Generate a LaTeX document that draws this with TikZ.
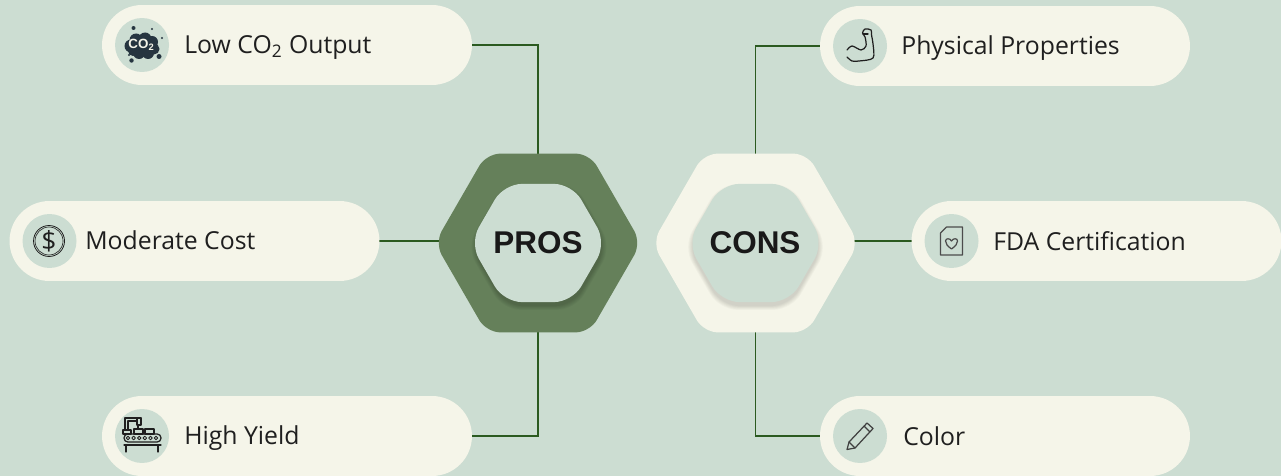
\documentclass[tikz,border=0pt]{standalone}
\usepackage{fontspec}
\setmainfont{Open Sans}
\newfontfamily\headfont{Liberation Sans}
\usetikzlibrary{shapes.geometric,shapes.misc,backgrounds}

\definecolor{bgmint}{HTML}{CCDDD2}
\definecolor{cream}{HTML}{F5F5E9}
\definecolor{prosgreen}{HTML}{65805A}
\definecolor{linkgreen}{HTML}{2B5A20}
\definecolor{inkdark}{HTML}{1F1F1F}
\definecolor{clouddark}{HTML}{263540}

\tikzset{
    pill/.style={rounded rectangle,fill=cream,minimum width=7.4cm,minimum height=1.6cm,inner sep=0pt,outer sep=0pt},
    iconcirc/.style={circle,fill=bgmint,minimum size=1.08cm,inner sep=0pt,outer sep=0pt},
    pilltext/.style={anchor=base west,inner sep=0pt,text=inkdark,font=\fontsize{14.1}{16}\selectfont},
    hexa/.style={regular polygon,regular polygon sides=6,inner sep=0pt,outer sep=0pt},
    hexouter/.style={hexa,minimum size=4.13cm,rounded corners=0.28cm},
    hexinner/.style={hexa,fill=bgmint,minimum size=2.73cm,rounded corners=0.36cm},
    hextext/.style={inner sep=0pt,text=black!90,font=\headfont\fontsize{17.9}{20}\selectfont\bfseries},
    link/.style={linkgreen,line width=0.95pt},
    icon/.style={line width=0.7pt,line cap=round,line join=round,inkdark},
}

\begin{document}
\begin{tikzpicture}[x=0.02cm,y=-0.02cm]
    \useasboundingbox (0,0) rectangle (1281,476);

    % Pills, their icon discs and their labels
    \foreach \name/\x/\y/\tx/\ty/\lab in {
    lowco/287/45/184/53.5/{Low CO\textsubscript{2} Output},
    physical/1005/46/901/54.5/{Physical Properties},
    moderate/194.5/241/85/249.5/{Moderate Cost},
    fda/1096.5/241/993/250.5/{FDA Certification},
    yield/287/436/184/444/{High Yield},
    color/1005/436/903/445/{Color}} {
    \node [pill] (\name) at (\x,\y) {};
    \node [iconcirc] (\name-icon) at ([xshift=0.8cm]\name.west) {};
    \node [pilltext] (\name-text) at (\tx,\ty) {\lab};
    }

    % Hexagons with a soft shadow under the inner one
    \node [hexouter,fill=prosgreen] (pros-outer) at (538,243) {};
    \node [hexouter,fill=cream] (cons-outer) at (755.5,243) {};
    \foreach \k in {1,...,6} {
    \node [hexa,fill=black,opacity=0.03,minimum size={2.73cm+(\k-1)*0.035cm},rounded corners=0.36cm] (pros-shadow-\k) at (539,247) {};
    \node [hexa,fill=black,opacity=0.025,minimum size={2.73cm+(\k-1)*0.035cm},rounded corners=0.36cm] (cons-shadow-\k) at (755.5,247) {};
    }
    \node [hexinner] (pros) at (538,243) {};
    \node [hexinner] (cons) at (755.5,243) {};
    \node [hextext] (pros-text) at (538,243) {PROS};
    \node [hextext] (cons-text) at (755,243) {CONS};

    % Connectors sit behind everything
    \begin{scope}[on background layer]
    \fill [bgmint] (0,0) rectangle (1281,476);
    \draw [link] (lowco.east) -| (pros-outer.center);
    \draw [link] (yield.east) -| (pros-outer.center);
    \draw [link] (moderate.east) -- (moderate.east -| pros-outer.center);
    \draw [link] (physical.west) -| (cons-outer.center);
    \draw [link] (color.west) -| (cons-outer.center);
    \draw [link] (fda.west) -- (fda.west -| cons-outer.center);
    \end{scope}

    % CO2 cloud
    \begin{scope}[shift={(lowco-icon.center)}]
    \foreach \cx/\cy/\r in {-11/1/6.5,-6/-5/6.5,3/-6/6.5,10/-3/6,12/4/5.5,6/8/6,-3/8/6,-9/6/5,0/1/9} {
    \fill [clouddark] (\cx,\cy) circle (\r);
    }
    \foreach \cx/\cy/\r in {-8.5/-17/2,10/-16/1.2,20/-7/1.2,-13/10/1.2,-10.5/15.5/2.2,17/11.5/2.5} {
    \fill [clouddark] (\cx,\cy) circle (\r);
    }
    \node [inner sep=0pt,text=cream,font=\headfont\fontsize{7.6}{8}\selectfont\bfseries] (lowco-mark) at (-0.5,0) {CO\textsubscript{2}};
    \end{scope}

    % Flexed arm
    \begin{scope}[shift={(physical-icon.center)}]
    \draw [icon] plot [smooth,tension=0.5] coordinates {(-13,4) (-8,0) (1,4) (6,0) (5,-9) (2.5,-13) (5,-17) (11,-16) (11.5,-11) (13,-2) (13,12) (-1,15) (-8,15) (-13,11)};
    \draw [icon] (3,-12) -- (8,-12);
    \end{scope}

    % Dollar coin
    \begin{scope}[shift={(moderate-icon.center)}]
    \draw [icon,line width=0.45pt] (-0.5,0) circle (15.5);
    \draw [icon,line width=0.35pt] (-0.5,0) circle (14);
    \node [inner sep=0pt,text=inkdark,font=\fontsize{15}{16}\selectfont] (moderate-mark) at (-0.5,0) {\$};
    \end{scope}

    % Certificate sheet with heart
    \begin{scope}[shift={(fda-icon.center)}]
    \draw [icon,black!70] (-5,-14) -- (11,-14) -- (11,14) -- (-11,14) -- (-11,-8) -- cycle;
    \draw [icon,black!70] (0,8) .. controls (-4,5) and (-6,3) .. (-6,0) .. controls (-6,-3) and (-1.5,-3) .. (0,0) .. controls (1.5,-3) and (6,-3) .. (6,0) .. controls (6,3) and (4,5) .. (0,8) -- cycle;
    \end{scope}

    % Conveyor with robot arm
    \begin{scope}[shift={(yield-icon.center)}]
    \draw [icon,rounded corners=2.2pt] (-18,-2) rectangle (19,6);
    \foreach \k in {0,...,5} {
    \draw [icon,line width=0.5pt] (-14+\k*5.6,2) circle (1.8);
    }
    \draw [icon] (-18,9) -- (19,9);
    \draw [icon] (-16,9) -- (-16,16);
    \draw [icon] (16,9) -- (16,16);
    \draw [icon] (-19,-6) rectangle (-11,-2);
    \draw [icon] (-8,-7) rectangle (1,-2);
    \draw [icon] (3,-7) rectangle (12,-2);
    \draw [icon] (-17,-6) -- (-17,-18) -- (-1,-18);
    \draw [icon] (-14,-6) -- (-14,-15) -- (-5,-15);
    \draw [icon] (-5,-18) rectangle (-1,-11);
    \draw [icon] (-4,-11) -- (-4,-7);
    \end{scope}

    % Pencil
    \begin{scope}[shift={(color-icon.center)}]
    \draw [icon,black!75] (-13,13.5) -- (-11,6) -- (7,-13) -- (13,-7.5) -- (-5,12) -- cycle;
    \draw [icon,black!75] (-11,6) -- (-5,12);
    \draw [icon,black!75] (4,-10) -- (10,-4);
    \end{scope}
\end{tikzpicture}
\end{document}
